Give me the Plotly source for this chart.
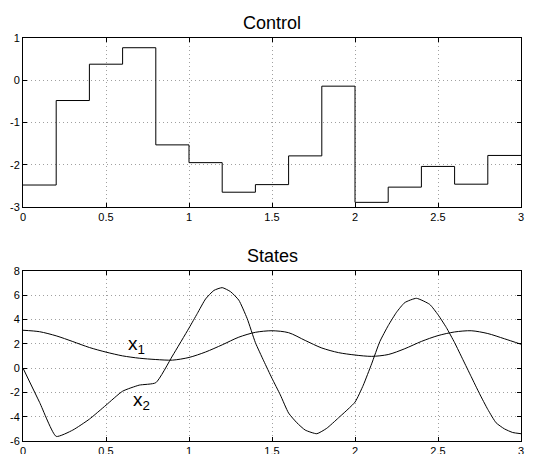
import plotly.graph_objects as go

# Control (piecewise constant, step 0.2)
step_times = [0.0, 0.2, 0.4, 0.6, 0.8, 1.0, 1.2, 1.4, 1.6, 1.8, 2.0, 2.2, 2.4, 2.6, 2.8, 3.0]
control = [-2.48, -0.48, 0.38, 0.77, -1.53, -1.95, -2.65, -2.47, -1.79, -0.14,
           -2.89, -2.53, -2.04, -2.46, -1.78]

# States
t_x1 = [0.0, 0.1, 0.2, 0.3, 0.4, 0.5, 0.6, 0.7, 0.8, 0.9, 1.0, 1.1, 1.2, 1.3, 1.4,
        1.5, 1.6, 1.7, 1.8, 1.9, 2.0, 2.1, 2.2, 2.3, 2.4, 2.5, 2.6, 2.7, 2.8, 2.9, 3.0]
x1 = [3.12, 3.0, 2.66, 2.19, 1.70, 1.32, 1.01, 0.82, 0.71, 0.66, 0.88, 1.33, 1.92, 2.55, 2.95,
      3.08, 2.92, 2.28, 1.66, 1.28, 1.08, 0.97, 1.12, 1.6, 2.2, 2.68, 2.98, 3.08, 2.85, 2.42, 1.97]

t_x2 = [0.0, 0.1, 0.2, 0.3, 0.4, 0.5, 0.6, 0.7, 0.8, 0.9, 1.0, 1.05, 1.1, 1.15, 1.2, 1.25,
        1.3, 1.35, 1.4, 1.45, 1.5, 1.55, 1.6, 1.65, 1.7, 1.77, 1.83, 1.9, 2.0, 2.05, 2.1,
        2.15, 2.2, 2.25, 2.3, 2.37, 2.45, 2.5, 2.55, 2.6, 2.65, 2.7, 2.75, 2.8, 2.85, 2.9,
        2.95, 3.0]
x2 = [0.0, -2.82, -5.62, -5.1, -4.2, -3.05, -1.9, -1.4, -1.2, 1.0, 3.3, 4.5, 5.7, 6.4, 6.63, 6.3,
      5.6, 4.1, 2.1, 0.6, -0.84, -2.2, -3.7, -4.5, -5.1, -5.4, -4.95, -4.1, -2.8, -1.4, 0.35,
      2.2, 3.5, 4.6, 5.4, 5.75, 5.25, 4.4, 3.35, 2.1, 0.7, -0.7, -2.1, -3.4, -4.5, -5.0,
      -5.3, -5.4]

x_ticks = [0, 0.5, 1, 1.5, 2, 2.5, 3]
x_ticktext = ["0", "0.5", "1", "1.5", "2", "2.5", "3"]
y1_ticks = [-3, -2, -1, 0, 1]
y1_ticktext = ["-3", "-2", "-1", "0", "1"]
y2_ticks = [-6, -4, -2, 0, 2, 4, 6, 8]
y2_ticktext = ["-6", "-4", "-2", "0", "2", "4", "6", "8"]

# page body has an 8px default margin, so figure coords are offset by 8px
W, H = 537, 454
ml, mr, mt, mb = 15, 24, 30, 21
ph = H - mt - mb
top_dom = [(H - mb - 199) / ph, 1.0]
bot_dom = [0.0, (H - mb - 263) / ph]

FONT = "Liberation Sans, Arial"

fig = go.Figure()
fig.add_trace(go.Scatter(x=step_times, y=control + [control[-1]], mode="lines",
                         line=dict(color="black", width=1, shape="hv"),
                         xaxis="x", yaxis="y", showlegend=False))
fig.add_trace(go.Scatter(x=t_x1, y=x1, mode="lines",
                         line=dict(color="black", width=1, shape="spline", smoothing=0.8),
                         xaxis="x2", yaxis="y2", showlegend=False))
fig.add_trace(go.Scatter(x=t_x2, y=x2, mode="lines",
                         line=dict(color="black", width=1, shape="spline", smoothing=0.5),
                         xaxis="x2", yaxis="y2", showlegend=False))

axis_common = dict(showline=True, linecolor="black", linewidth=1, mirror="ticks",
                   ticks="inside", ticklen=4, tickcolor="black", showgrid=True,
                   gridcolor="#a0a0a0", griddash="1px,3px", gridwidth=1, zeroline=False,
                   automargin=False,
                   tickfont=dict(family=FONT, size=11, color="black"))

fig.update_layout(
    width=W, height=H,
    margin=dict(l=ml, r=mr, t=mt, b=mb, autoexpand=False),
    paper_bgcolor="white", plot_bgcolor="white",
    xaxis=dict(domain=[0, 1], range=[0, 3], tickvals=x_ticks, ticktext=x_ticktext,
               anchor="y", ticklabelstandoff=0, **axis_common),
    yaxis=dict(domain=top_dom, range=[-3, 1], tickvals=y1_ticks, ticktext=y1_ticktext,
               anchor="x", **axis_common),
    xaxis2=dict(domain=[0, 1], range=[0, 3], tickvals=x_ticks, ticktext=x_ticktext,
                anchor="y2", ticklabelstandoff=0, **axis_common),
    yaxis2=dict(domain=bot_dom, range=[-6, 8], tickvals=y2_ticks, ticktext=y2_ticktext,
                anchor="x2", **axis_common),
    annotations=[
        dict(text="Control", x=0.5, y=top_dom[1], xref="paper", yref="paper",
             xanchor="center", yanchor="bottom", yshift=3, showarrow=False,
             font=dict(family=FONT, size=18, color="black")),
        dict(text="States", x=0.5, y=bot_dom[1], xref="paper", yref="paper",
             xanchor="center", yanchor="bottom", yshift=3, showarrow=False,
             font=dict(family=FONT, size=18, color="black")),
        dict(text="x<sub>1</sub>", x=0.62, y=1.9, xref="x2", yref="y2",
             xanchor="left", yanchor="middle", showarrow=False,
             font=dict(family=FONT, size=19, color="black")),
        dict(text="x<sub>2</sub>", x=0.65, y=-2.7, xref="x2", yref="y2",
             xanchor="left", yanchor="middle", showarrow=False,
             font=dict(family=FONT, size=19, color="black")),
    ],
)

fig.write_html("out.html")
